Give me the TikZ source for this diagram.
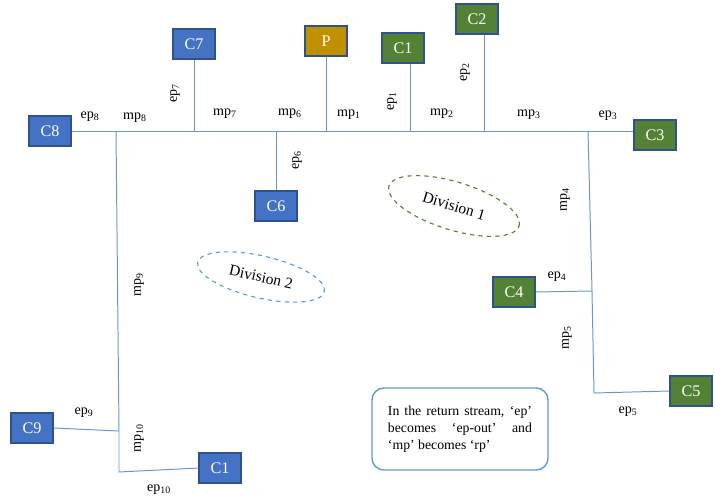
\documentclass[tikz,border=0pt]{standalone}
\usepackage{fontspec}
\setmainfont{Liberation Serif}
\usepackage{xcolor}
\usetikzlibrary{shapes.geometric}

\definecolor{cblue}{HTML}{4472C4}
\definecolor{cgreen}{HTML}{548235}
\definecolor{cgold}{HTML}{BF9000}
\definecolor{cedge}{HTML}{2F528F}
\definecolor{pipe}{HTML}{6A95DA}
\definecolor{lblue}{HTML}{5B9BD5}

\begin{document}
\begin{tikzpicture}[x=0.025cm,y=-0.025cm,
  unit/.style={draw=cedge,line width=0.8pt,minimum width=1.05cm,minimum height=0.75cm,inner sep=0pt,text=white,font=\fontsize{11.5}{13}\selectfont},
  pipeline/.style={draw=pipe,line width=0.7pt},
  lab/.style={font=\fontsize{10}{12}\selectfont,inner sep=1pt},
  division/.style={ellipse,draw,dashed,line width=0.8pt,inner sep=0pt,font=\fontsize{11}{12}\selectfont}]
\useasboundingbox (0,0) rectangle (715,499);

% units
\node[unit,fill=cblue] (C8) at (50,131) {C8};
\node[unit,fill=cblue] (C7) at (194,44) {C7};
\node[unit,fill=cgold] (P) at (326,41) {P};
\node[unit,fill=cgreen] (C1) at (403,48) {C1};
\node[unit,fill=cgreen] (C2) at (477,19) {C2};
\node[unit,fill=cgreen] (C3) at (655,135) {C3};
\node[unit,fill=cblue] (C6) at (276,206) {C6};
\node[unit,fill=cgreen] (C4) at (514,292) {C4};
\node[unit,fill=cgreen] (C5) at (691,391) {C5};
\node[unit,fill=cblue] (C9) at (32,428) {C9};
\node[unit,fill=cblue] (C10) at (220,468) {C1};

% junctions
\coordinate (j8) at (116,131);
\coordinate (j9) at (119,431);
\coordinate (j10) at (119,472);
\coordinate (j3) at (588,131);
\coordinate (j4) at (592,291);
\coordinate (j5) at (594,393);

% main line and branches
\draw[pipeline] (C8.east) -- (C3.west |- C8.east);
\draw[pipeline] (C7.south) -- (C7.south |- C8.east);
\draw[pipeline] (P.south) -- (P.south |- C8.east);
\draw[pipeline] ([xshift=5]C1.south) -- ([xshift=5]C1.south |- C8.east);
\draw[pipeline] ([xshift=5]C2.south) -- ([xshift=5]C2.south |- C8.east);
\draw[pipeline] (C6.north) -- (C6.north |- C8.east);
\draw[pipeline] (j3) -- (j4) -- (j5) -- (C5.west);
\draw[pipeline] (C4.east) -- (j4);
\draw[pipeline] (j8) -- (j9) -- (j10) -- (C10.west);
\draw[pipeline] (C9.east) -- (j9);

% labels
\node[lab] (ep8) at (90,117) {ep\textsubscript{8}};
\node[lab] (mp8) at (135,118) {mp\textsubscript{8}};
\node[lab,rotate=90] (ep7) at (175,93) {ep\textsubscript{7}};
\node[lab] (mp7) at (225,114) {mp\textsubscript{7}};
\node[lab] (mp6) at (290,114) {mp\textsubscript{6}};
\node[lab,rotate=90] (ep6) at (297,160) {ep\textsubscript{6}};
\node[lab] (mp1) at (349,115) {mp\textsubscript{1}};
\node[lab,rotate=90] (ep1) at (392,101) {ep\textsubscript{1}};
\node[lab] (mp2) at (442,114) {mp\textsubscript{2}};
\node[lab,rotate=90] (ep2) at (465,72) {ep\textsubscript{2}};
\node[lab] (mp3) at (529,115) {mp\textsubscript{3}};
\node[lab] (ep3) at (608,116) {ep\textsubscript{3}};
\node[lab,rotate=90] (mp4) at (565,200) {mp\textsubscript{4}};
\node[lab] (ep4) at (557,277) {ep\textsubscript{4}};
\node[lab,rotate=90] (mp5) at (567,338) {mp\textsubscript{5}};
\node[lab] (ep5) at (628,412) {ep\textsubscript{5}};
\node[lab,rotate=90] (mp9) at (139,285) {mp\textsubscript{9}};
\node[lab] (ep9) at (84,413) {ep\textsubscript{9}};
\node[lab,rotate=90] (mp10) at (139,438) {mp\textsubscript{10}};
\node[lab] (ep10) at (159,490) {ep\textsubscript{10}};

% divisions
\node[division,draw=cgreen,rotate=-17,minimum width=3.4cm,minimum height=1.2cm] (div1) at (454,206) {Division 1};
\node[division,draw=lblue,rotate=-13,minimum width=3.25cm,minimum height=1.05cm] (div2) at (261,277) {Division 2};

% note
\node[draw=lblue,line width=1pt,rounded corners=0.3cm,minimum width=4.4cm,minimum height=2.05cm,
  text width=3.6cm,align=justify,font=\fontsize{9.8}{12.2}\selectfont] (note) at (460,429)
  {In the return stream, ‘ep’ becomes ‘ep-out’ and\linebreak ‘mp’ becomes ‘rp’};
\end{tikzpicture}
\end{document}
